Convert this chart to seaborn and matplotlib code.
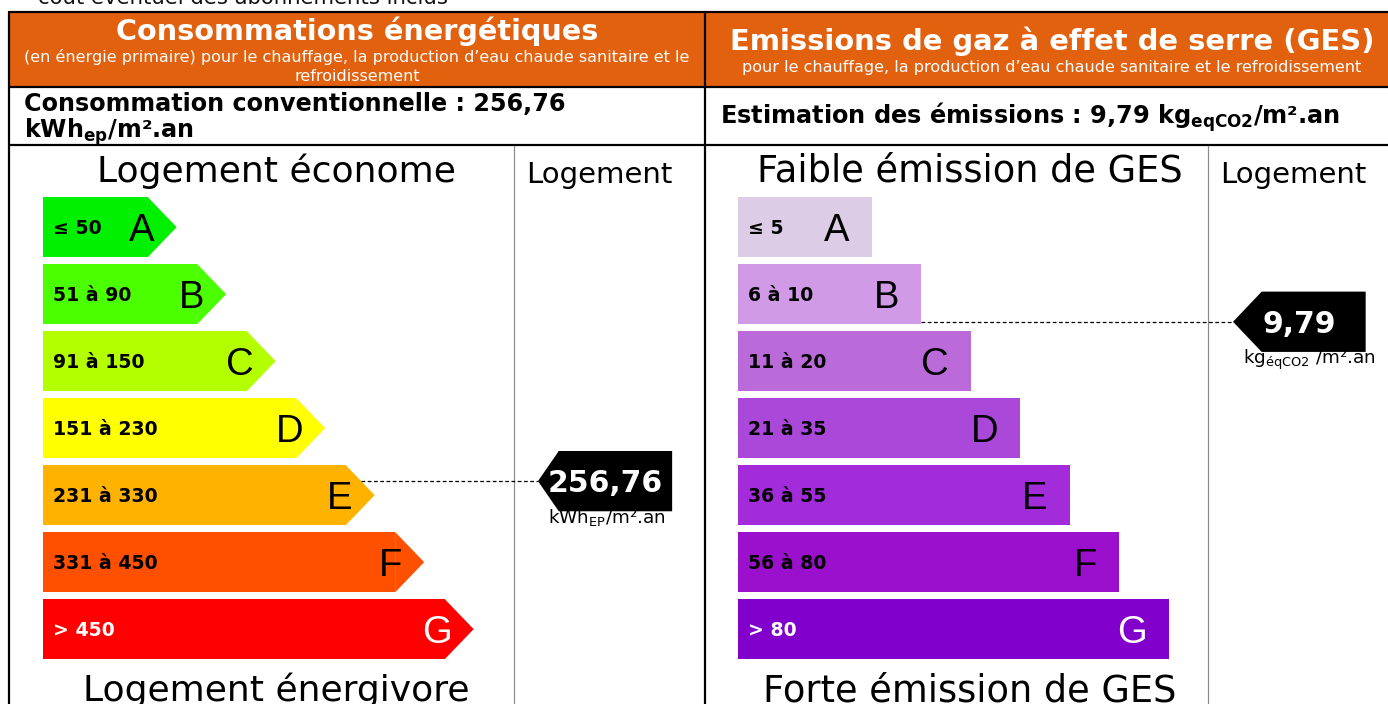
import matplotlib
matplotlib.use("Agg")
import matplotlib.pyplot as plt
from matplotlib.patches import Polygon, Rectangle
import seaborn as sns

# --- data -------------------------------------------------------------
classes = ["A", "B", "C", "D", "E", "F", "G"]
class_rank = [1, 2, 3, 4, 5, 6, 7]

energy_ranges = ["≤ 50", "51 à 90", "91 à 150", "151 à 230", "231 à 330", "331 à 450", "> 450"]
energy_upper = [50, 90, 150, 230, 330, 450]
energy_colors = ["#00F000", "#4CFF00", "#B3FF00", "#FFFF00", "#FFB300", "#FF5000", "#FF0000"]
energy_value = 256.76

ges_ranges = ["≤ 5", "6 à 10", "11 à 20", "21 à 35", "36 à 55", "56 à 80", "> 80"]
ges_upper = [5, 10, 20, 35, 55, 80]
ges_colors = ["#DCCCE6", "#D09AE6", "#BB6BD9", "#AA48D9", "#A22BDA", "#9A10CC", "#8200CC"]
ges_value = 9.79

ORANGE = "#E2610F"
W, H = 1388, 704
UNIT = 49.5      # px per length unit on the bar axes
PITCH = 67.0     # px per class row
BASE = 1.7       # extra length added to every class bar
BAR_W = 0.9


def pt(px):
    return px * 72 / 100


def fmt(v):
    return f"{v:.2f}".replace(".", ",")


def value_row(value, upper):
    k = sum(1 for u in upper if u < value)
    lo = upper[k - 1] if k > 0 else 0
    if k < len(upper):
        frac = (value - lo) / (upper[k] - lo)
    else:
        frac = 0.5
    return k, k - BAR_W / 2 + BAR_W * frac


sns.set_theme(style="white")
plt.rcParams["font.family"] = ["DejaVu Sans"]

fig = plt.figure(figsize=(W / 100, H / 100), dpi=100)

# background axes in pixel coordinates for the table frame and text
bg = fig.add_axes([0, 0, 1, 1])
bg.set_xlim(0, W)
bg.set_ylim(H, 0)
bg.axis("off")

bg.add_patch(Rectangle((9, 12), W - 9, 75, facecolor=ORANGE, edgecolor="none"))
lw = pt(2.2)
for y in (12, 87, 145):
    bg.plot([9, W], [y, y], color="black", lw=lw, solid_capstyle="butt")
for x in (9.5, 705):
    bg.plot([x, x], [11, H], color="black", lw=lw, solid_capstyle="butt")
for x in (514, 1208):
    bg.plot([x, x], [146, H], color="#8a8a8a", lw=pt(1.2))

bg.text(38, 4, "coût éventuel des abonnements inclus", fontsize=15.3, color="#111111", va="baseline")

bg.text(357, 40, "Consommations énergétiques", fontsize=20.7, fontweight="bold", color="white",
        ha="center", va="baseline")
bg.text(357, 62, "(en énergie primaire) pour le chauffage, la production d’eau chaude sanitaire et le",
        fontsize=11.5, color="white", ha="center", va="baseline")
bg.text(357, 81, "refroidissement", fontsize=11.5, color="white", ha="center", va="baseline")
bg.text(1052, 50, "Emissions de gaz à effet de serre (GES)", fontsize=20.9, fontweight="bold",
        color="white", ha="center", va="baseline")
bg.text(1052, 72, "pour le chauffage, la production d’eau chaude sanitaire et le refroidissement",
        fontsize=11.5, color="white", ha="center", va="baseline")

bg.text(24, 111, f"Consommation conventionnelle : {fmt(energy_value)}", fontsize=17.2,
        fontweight="bold", va="baseline", color="black")
bg.text(24, 138, r"kWh$_{\mathbf{ep}}$/m².an", fontsize=17.2, fontweight="bold",
        va="baseline", color="black")
bg.text(720, 124, f"Estimation des émissions : {fmt(ges_value)} kg" + r"$_{\mathbf{eqCO2}}$/m².an",
        fontsize=17.3, fontweight="bold", va="baseline", color="black")

bg.text(276, 182, "Logement économe", fontsize=26, ha="center", va="baseline", color="black")
bg.text(599, 183, "Logement", fontsize=21, ha="center", va="baseline", color="black")
bg.text(276, 701, "Logement énergivore", fontsize=26, ha="center", va="baseline", color="black")
bg.text(970, 182, "Faible émission de GES", fontsize=26.5, ha="center", va="baseline", color="black")
bg.text(1293, 183, "Logement", fontsize=21, ha="center", va="baseline", color="black")
bg.text(970, 701, "Forte émission de GES", fontsize=26.5, ha="center", va="baseline", color="black")


def bar_axes(left_px, width_px):
    top = 197 - PITCH * (0.5 - BAR_W / 2)
    bottom = top + 7 * PITCH
    ax = fig.add_axes([left_px / W, (H - bottom) / H, width_px / W, 7 * PITCH / H])
    ax.set_facecolor("none")
    return ax


def draw_panel(ax, ranges, colors, upper, value, unit_label, arrow, marker_tip, marker_right,
               marker_slant, width_px):
    tip = 29 / UNIT if arrow else 0.0
    lengths = [r + BASE - tip for r in class_rank]
    sns.barplot(x=lengths, y=classes, hue=classes, palette=colors, orient="h",
                width=BAR_W, saturation=1, linewidth=0, legend=False, ax=ax)
    ax.set_xlim(0, width_px / UNIT)
    ax.set_ylim(6.5, -0.5)
    ax.axis("off")

    bars = list(ax.patches[:len(classes)])
    dy_px = 1 / PITCH
    for i, p in enumerate(bars):
        x1 = p.get_x() + p.get_width()
        y0, hgt = p.get_y(), p.get_height()
        yc = y0 + hgt / 2
        if arrow:
            ax.add_patch(Polygon([(x1, y0), (x1 + tip, yc), (x1, y0 + hgt)],
                                 closed=True, facecolor=colors[i], edgecolor="none"))
        txt_col = "white" if i == len(classes) - 1 else "black"
        ax.text(10 / UNIT, yc + 7 * dy_px, ranges[i], fontsize=13.6, fontweight="bold",
                color=txt_col, va="baseline", ha="left")
        ax.text(x1 + tip - 22 / UNIT, yc + 14 * dy_px, classes[i], fontsize=27.5,
                family="Liberation Sans", color=txt_col, va="baseline", ha="right")

    k, ym = value_row(value, upper)
    p = bars[k]
    x1 = p.get_x() + p.get_width()
    d = abs(ym - (p.get_y() + p.get_height() / 2))
    start = x1 + tip * (1 - d / (BAR_W / 2)) if arrow else x1
    ax.plot([start, marker_tip], [ym, ym], color="black", lw=0.9, ls=(0, (3, 2)))

    half = BAR_W / 2
    ax.add_patch(Polygon([(marker_tip, ym), (marker_tip + marker_slant, ym - half),
                          (marker_right, ym - half), (marker_right, ym + half),
                          (marker_tip + marker_slant, ym + half)],
                         closed=True, facecolor="black", edgecolor="none"))
    ax.text((marker_tip + marker_right) / 2, ym + 11 * dy_px, fmt(value), fontsize=21.5,
            fontweight="bold", color="white", ha="center", va="baseline")
    ax.text(marker_tip + 10 / UNIT, ym + 42 * dy_px, unit_label,
            fontsize=13.2, color="black", ha="left", va="baseline")


ax_e = bar_axes(43, 662)
draw_panel(ax_e, energy_ranges, energy_colors, energy_upper, energy_value,
           r"kWh$_{\mathrm{EP}}$/m².an", True, 10.0, 12.71, 0.42, 662)

ax_g = bar_axes(738, 650)
draw_panel(ax_g, ges_ranges, ges_colors, ges_upper, ges_value,
           r"kg$_{\mathrm{éqCO2}}$ /m².an", False, 10.0, 12.68, 0.58, 650)

fig.savefig("out.png", dpi=100)
